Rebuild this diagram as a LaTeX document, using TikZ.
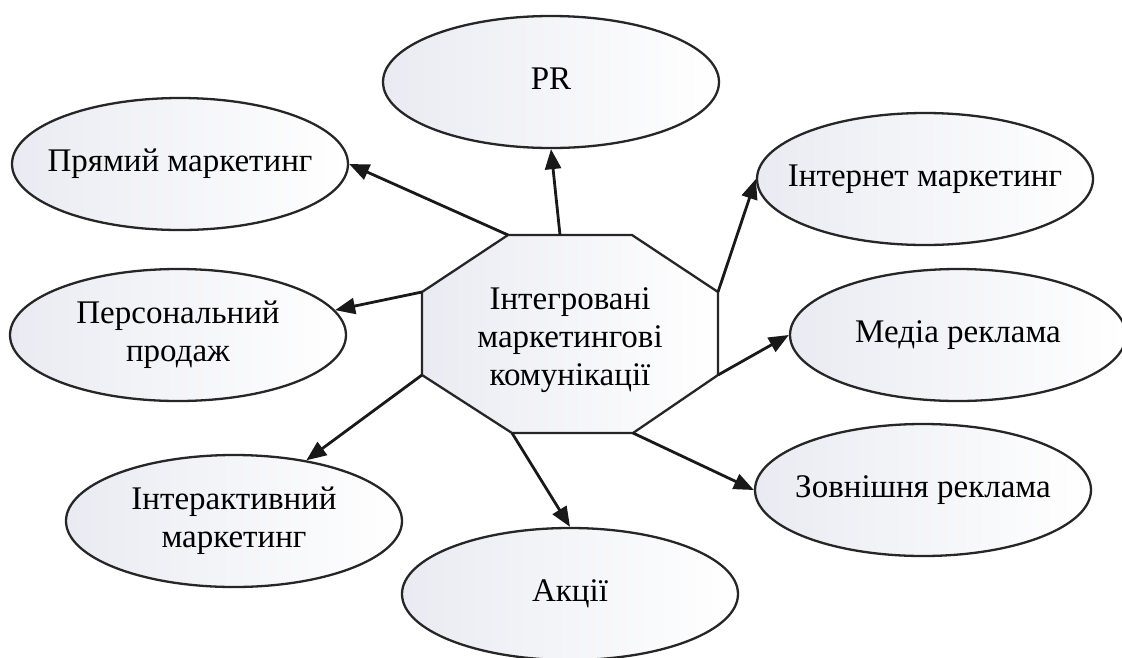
\documentclass[tikz,border=0pt]{standalone}
\usepackage{fontspec}
\setmainfont{Liberation Serif}
\usetikzlibrary{shapes.geometric,arrows.meta}
\definecolor{shadeL}{RGB}{234,235,242}
\tikzset{
  ell/.style={ellipse, draw=black!85, line width=2.3pt, minimum width=336pt,
    minimum height=132pt, inner sep=0pt, left color=shadeL, right color=white},
  oct/.style={draw=black!85, line width=2.3pt, left color=shadeL, right color=white},
  arr/.style={line width=2.8pt, draw=black!90, -{Triangle[length=20pt,width=16pt]}},
}
\newcommand{\lines}[1]{\makebox[0pt]{\begin{tabular}{@{}c@{}}#1\end{tabular}}}
\begin{document}
\begin{tikzpicture}[x=1pt,y=-1pt,font=\fontsize{33}{38}\selectfont]
\clip (0,0) rectangle (1122,657);
\fill[white] (0,0) rectangle (1122,657);
% octagon
\coordinate (o1) at (508,235);
\coordinate (o2) at (632,235);
\coordinate (o3) at (718,292);
\coordinate (o4) at (718,375);
\coordinate (o5) at (633,433);
\coordinate (o6) at (512,433);
\coordinate (o7) at (422,375);
\coordinate (o8) at (422,292);
\coordinate (opr) at (560,235);
\path[oct] (o1) -- (o2) -- (o3) -- (o4) -- (o5) -- (o6) -- (o7) -- (o8) -- cycle;
\node[align=center] (imc) at (570,340) {Інтегровані\\маркетингові\\комунікації};
% ellipses
\node[ell] (pr)   at (551,82)  {\lines{PR}};
\node[ell] (prm)  at (180,164) {\lines{Прямий маркетинг}};
\node[ell] (int)  at (925,179) {\lines{Інтернет маркетинг}};
\node[ell] (pers) at (178,335) {\lines{Персональний\\продаж}};
\node[ell] (med)  at (958,335) {\lines{Медіа реклама}};
\node[ell] (zov)  at (923,490) {\lines{Зовнішня реклама}};
\node[ell] (inter) at (234,521) {\lines{Інтерактивний\\маркетинг}};
\node[ell] (ak)   at (570,594) {\lines{Акції}};
% arrows
\draw[arr] (o1) -- (prm.east);
\draw[arr] (opr) -- (pr.south);
\draw[arr] (o3) -- (int.west);
\draw[arr] (o8) -- (pers.9);
\draw[arr] (o4) -- (med.west);
\draw[arr] (o5) -- (zov.west);
\draw[arr] (o6) -- (ak.north);
\draw[arr] (o7) -- (inter.40);
\end{tikzpicture}
\end{document}
